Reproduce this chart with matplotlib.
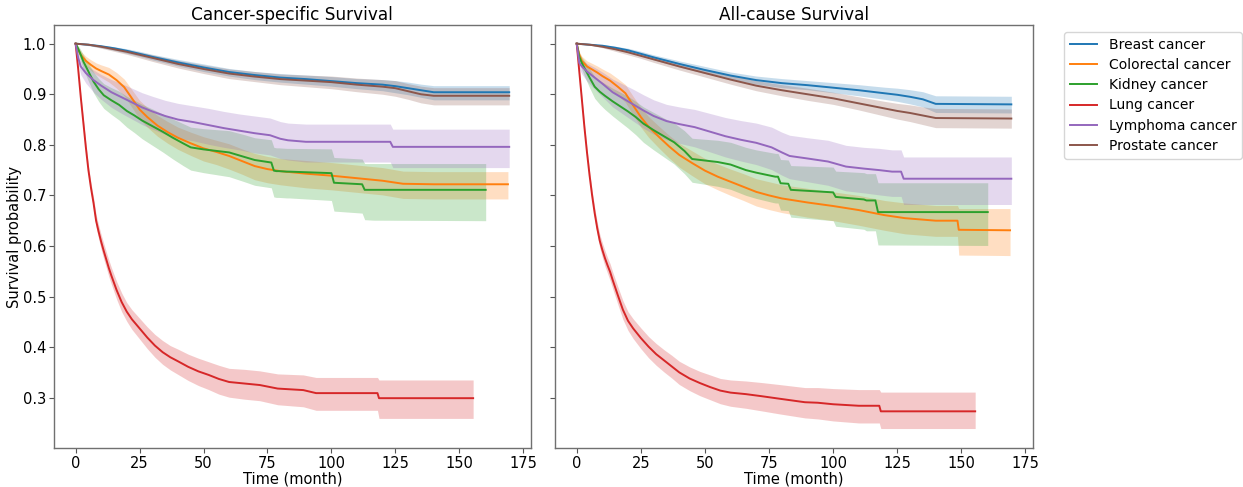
import matplotlib
matplotlib.use("Agg")
import matplotlib.pyplot as plt

# ---- data (months, survival probability) ----
names = ["Breast cancer", "Colorectal cancer", "Kidney cancer",
         "Lung cancer", "Lymphoma cancer", "Prostate cancer"]
colors = ["#1f77b4", "#ff7f0e", "#2ca02c", "#d62728", "#9467bd", "#8c564b"]

t_breast = [0, 5, 10, 15, 20, 25, 30, 40, 50, 60, 70, 80, 90, 100, 110, 120, 125, 130, 135, 140, 169.5]
t_prostate = [0, 5, 10, 15, 20, 25, 30, 40, 50, 60, 70, 80, 90, 100, 110, 120, 125, 130, 135, 140, 169.5]
t_colorectal = [0, 1, 2, 4, 6, 8, 10, 13, 16, 19, 22, 25, 28, 32, 36, 40, 45, 50, 55, 60, 65, 70, 75, 80,
                90, 100, 110, 120, 128, 140, 148.5, 149, 169]
t_kidney = [0, 1, 2, 3, 5, 7, 9, 11, 14, 17, 20, 23, 26, 30, 34, 38, 42, 45, 50, 55, 60, 66, 70, 76.5, 77.5,
            78.5, 79.5, 82.5, 83.5, 100, 101, 112, 113, 116.5, 117.5, 160.3]
t_lymphoma = [0, 1, 2, 4, 7, 10, 14, 18, 22, 26, 30, 35, 40, 46, 52, 58, 64, 70, 76, 80, 83, 90, 98, 105,
              112, 118, 123, 124, 126.5, 127.5, 169.5]
t_lung = [0, 1, 2, 3, 4, 5, 6, 7, 8, 9, 10, 11, 12, 13, 14, 16, 18, 20, 22, 25, 28, 31, 34, 37, 40, 44,
          48, 52, 56, 60, 66, 72, 79, 89, 94, 100, 110, 118, 118.6, 155.4]

# Cancer-specific survival (left panel)
cs_breast = [1.0, 0.998, 0.995, 0.991, 0.986, 0.980, 0.974, 0.963, 0.953, 0.944, 0.938, 0.933, 0.930, 0.926, 0.922, 0.919, 0.916, 0.912, 0.908, 0.904, 0.904]
cs_breast_lo = [1.0, 0.996, 0.992, 0.987, 0.981, 0.975, 0.968, 0.956, 0.945, 0.936, 0.929, 0.924, 0.920, 0.916, 0.911, 0.907, 0.903, 0.899, 0.894, 0.889, 0.889]
cs_breast_hi = [1.0, 0.999, 0.997, 0.994, 0.990, 0.985, 0.979, 0.969, 0.960, 0.951, 0.945, 0.941, 0.938, 0.935, 0.931, 0.929, 0.927, 0.924, 0.920, 0.917, 0.917]

cs_prostate = [1.0, 0.998, 0.994, 0.989, 0.984, 0.978, 0.972, 0.960, 0.950, 0.941, 0.935, 0.930, 0.927, 0.924, 0.919, 0.915, 0.912, 0.906, 0.900, 0.897, 0.897]
cs_prostate_lo = [1.0, 0.997, 0.991, 0.985, 0.979, 0.972, 0.965, 0.952, 0.941, 0.931, 0.925, 0.919, 0.915, 0.911, 0.905, 0.900, 0.896, 0.890, 0.883, 0.879, 0.879]
cs_prostate_hi = [1.0, 0.999, 0.996, 0.992, 0.988, 0.983, 0.978, 0.967, 0.958, 0.950, 0.945, 0.940, 0.938, 0.936, 0.932, 0.929, 0.927, 0.921, 0.916, 0.913, 0.913]

cs_colorectal = [1.0, 0.988, 0.978, 0.966, 0.958, 0.951, 0.946, 0.939, 0.928, 0.914, 0.892, 0.870, 0.855, 0.838, 0.825, 0.814,
                 0.803, 0.793, 0.786, 0.778, 0.768, 0.758, 0.752, 0.748, 0.743, 0.739, 0.734, 0.729, 0.723, 0.722, 0.722, 0.722, 0.722]
cs_colorectal_lo = [1.0, 0.982, 0.970, 0.956, 0.947, 0.939, 0.933, 0.924, 0.912, 0.897, 0.874, 0.851, 0.835, 0.817, 0.803, 0.791,
                    0.779, 0.768, 0.761, 0.752, 0.742, 0.731, 0.725, 0.721, 0.715, 0.711, 0.706, 0.701, 0.694, 0.693, 0.693, 0.693, 0.693]
cs_colorectal_hi = [1.0, 0.993, 0.985, 0.975, 0.968, 0.962, 0.958, 0.953, 0.943, 0.930, 0.909, 0.888, 0.874, 0.858, 0.846, 0.835,
                    0.825, 0.816, 0.809, 0.802, 0.792, 0.783, 0.777, 0.773, 0.769, 0.765, 0.760, 0.755, 0.748, 0.747, 0.747, 0.747, 0.747]

cs_kidney = [1.0, 0.990, 0.978, 0.965, 0.945, 0.925, 0.910, 0.898, 0.888, 0.879, 0.867, 0.858, 0.848, 0.837, 0.826, 0.814, 0.803, 0.795,
             0.791, 0.788, 0.785, 0.776, 0.770, 0.765, 0.749, 0.748, 0.748, 0.747, 0.747, 0.744, 0.725, 0.722, 0.711, 0.711, 0.711, 0.711]
cs_kidney_lo = [1.0, 0.982, 0.966, 0.950, 0.926, 0.903, 0.886, 0.872, 0.860, 0.849, 0.835, 0.824, 0.812, 0.799, 0.786, 0.772, 0.759, 0.750,
                0.745, 0.741, 0.737, 0.727, 0.720, 0.715, 0.697, 0.696, 0.696, 0.695, 0.695, 0.690, 0.669, 0.665, 0.652, 0.651, 0.651, 0.650]
cs_kidney_hi = [1.0, 0.996, 0.988, 0.978, 0.961, 0.944, 0.931, 0.921, 0.913, 0.906, 0.896, 0.888, 0.880, 0.871, 0.861, 0.851, 0.842, 0.835,
                0.832, 0.830, 0.828, 0.820, 0.814, 0.810, 0.795, 0.794, 0.794, 0.793, 0.793, 0.792, 0.775, 0.772, 0.763, 0.763, 0.763, 0.763]

cs_lymphoma = [1.0, 0.972, 0.955, 0.942, 0.928, 0.917, 0.904, 0.894, 0.884, 0.874, 0.866, 0.857, 0.850, 0.845, 0.839, 0.833, 0.828, 0.823,
               0.819, 0.812, 0.809, 0.806, 0.806, 0.806, 0.806, 0.806, 0.806, 0.796, 0.796, 0.796, 0.796]
cs_lymphoma_lo = [1.0, 0.960, 0.939, 0.922, 0.904, 0.890, 0.874, 0.862, 0.851, 0.840, 0.831, 0.821, 0.813, 0.808, 0.801, 0.795, 0.790, 0.784,
                  0.780, 0.773, 0.770, 0.766, 0.766, 0.766, 0.766, 0.766, 0.766, 0.755, 0.755, 0.755, 0.755]
cs_lymphoma_hi = [1.0, 0.982, 0.968, 0.958, 0.948, 0.939, 0.929, 0.921, 0.912, 0.903, 0.896, 0.888, 0.882, 0.877, 0.872, 0.866, 0.861, 0.857,
                  0.853, 0.846, 0.843, 0.841, 0.841, 0.841, 0.841, 0.841, 0.841, 0.831, 0.831, 0.831, 0.831]

cs_lung = [1.0, 0.950, 0.895, 0.845, 0.795, 0.750, 0.715, 0.685, 0.650, 0.628, 0.608, 0.590, 0.573, 0.556, 0.541, 0.513, 0.489, 0.470, 0.455,
           0.437, 0.419, 0.403, 0.390, 0.380, 0.372, 0.361, 0.352, 0.345, 0.337, 0.331, 0.328, 0.325, 0.318, 0.315, 0.309, 0.309, 0.309, 0.309,
           0.299, 0.299]
cs_lung_lo = [1.0, 0.946, 0.889, 0.837, 0.786, 0.740, 0.704, 0.673, 0.637, 0.614, 0.593, 0.574, 0.557, 0.539, 0.524, 0.495, 0.470, 0.451, 0.435,
              0.416, 0.397, 0.380, 0.366, 0.355, 0.346, 0.334, 0.324, 0.316, 0.307, 0.301, 0.297, 0.294, 0.286, 0.282, 0.275, 0.275, 0.275, 0.275,
              0.259, 0.259]
cs_lung_hi = [1.0, 0.954, 0.901, 0.852, 0.803, 0.759, 0.725, 0.696, 0.662, 0.641, 0.622, 0.605, 0.588, 0.572, 0.557, 0.530, 0.507, 0.488, 0.474,
              0.457, 0.440, 0.425, 0.413, 0.403, 0.396, 0.386, 0.378, 0.371, 0.364, 0.358, 0.356, 0.353, 0.347, 0.345, 0.340, 0.340, 0.340, 0.340,
              0.335, 0.335]

# All-cause survival (right panel)
ac_breast = [1.0, 0.998, 0.996, 0.992, 0.987, 0.980, 0.973, 0.960, 0.948, 0.937, 0.928, 0.922, 0.918, 0.913, 0.908, 0.902, 0.899, 0.895, 0.890, 0.881, 0.880]
ac_breast_lo = [1.0, 0.997, 0.994, 0.989, 0.983, 0.976, 0.968, 0.954, 0.941, 0.930, 0.920, 0.913, 0.909, 0.903, 0.897, 0.890, 0.886, 0.881, 0.875, 0.864, 0.863]
ac_breast_hi = [1.0, 0.999, 0.998, 0.995, 0.991, 0.985, 0.978, 0.966, 0.955, 0.944, 0.936, 0.931, 0.927, 0.923, 0.919, 0.914, 0.912, 0.909, 0.905, 0.897, 0.896]

ac_prostate = [1.0, 0.998, 0.994, 0.989, 0.983, 0.976, 0.969, 0.955, 0.942, 0.929, 0.917, 0.908, 0.900, 0.892, 0.882, 0.872, 0.867, 0.863, 0.858, 0.853, 0.852]
ac_prostate_lo = [1.0, 0.997, 0.992, 0.985, 0.978, 0.971, 0.963, 0.948, 0.934, 0.920, 0.907, 0.897, 0.888, 0.880, 0.869, 0.857, 0.851, 0.846, 0.840, 0.834, 0.833]
ac_prostate_hi = [1.0, 0.999, 0.996, 0.992, 0.987, 0.981, 0.975, 0.962, 0.950, 0.938, 0.927, 0.919, 0.912, 0.904, 0.895, 0.886, 0.882, 0.879, 0.875, 0.872, 0.871]

ac_colorectal = [1.0, 0.978, 0.966, 0.955, 0.949, 0.943, 0.936, 0.927, 0.915, 0.902, 0.878, 0.855, 0.836, 0.816, 0.797, 0.780,
                 0.764, 0.749, 0.737, 0.727, 0.717, 0.707, 0.700, 0.694, 0.686, 0.679, 0.671, 0.661, 0.655, 0.650, 0.650, 0.632, 0.631]
ac_colorectal_lo = [1.0, 0.970, 0.956, 0.943, 0.936, 0.929, 0.921, 0.911, 0.898, 0.884, 0.859, 0.835, 0.815, 0.794, 0.774, 0.756,
                    0.739, 0.723, 0.711, 0.700, 0.690, 0.679, 0.672, 0.666, 0.657, 0.650, 0.641, 0.631, 0.624, 0.619, 0.619, 0.582, 0.581]
ac_colorectal_hi = [1.0, 0.984, 0.975, 0.966, 0.961, 0.956, 0.950, 0.942, 0.931, 0.919, 0.896, 0.874, 0.856, 0.837, 0.819, 0.803,
                    0.788, 0.773, 0.762, 0.752, 0.743, 0.733, 0.727, 0.721, 0.714, 0.707, 0.700, 0.690, 0.685, 0.680, 0.680, 0.674, 0.674]

ac_kidney = [1.0, 0.974, 0.962, 0.952, 0.933, 0.915, 0.905, 0.897, 0.886, 0.876, 0.866, 0.855, 0.842, 0.829, 0.817, 0.805, 0.788, 0.772,
             0.769, 0.766, 0.761, 0.750, 0.745, 0.738, 0.737, 0.737, 0.724, 0.723, 0.711, 0.706, 0.697, 0.692, 0.690, 0.690, 0.667, 0.667]
ac_kidney_lo = [1.0, 0.964, 0.949, 0.936, 0.913, 0.892, 0.880, 0.870, 0.857, 0.845, 0.833, 0.820, 0.805, 0.790, 0.776, 0.762, 0.743, 0.726,
                0.722, 0.718, 0.712, 0.700, 0.694, 0.686, 0.685, 0.685, 0.671, 0.670, 0.657, 0.650, 0.639, 0.633, 0.630, 0.630, 0.602, 0.601]
ac_kidney_hi = [1.0, 0.982, 0.973, 0.966, 0.950, 0.935, 0.927, 0.921, 0.912, 0.904, 0.896, 0.886, 0.875, 0.864, 0.853, 0.843, 0.828, 0.813,
                0.811, 0.809, 0.805, 0.795, 0.790, 0.784, 0.783, 0.783, 0.771, 0.770, 0.759, 0.756, 0.748, 0.745, 0.743, 0.743, 0.725, 0.725]

ac_lymphoma = [1.0, 0.962, 0.955, 0.945, 0.933, 0.921, 0.904, 0.892, 0.880, 0.868, 0.857, 0.847, 0.841, 0.835, 0.826, 0.817, 0.810, 0.804,
               0.795, 0.785, 0.778, 0.773, 0.767, 0.757, 0.753, 0.750, 0.747, 0.747, 0.747, 0.733, 0.733]
ac_lymphoma_lo = [1.0, 0.950, 0.940, 0.926, 0.910, 0.895, 0.875, 0.861, 0.847, 0.833, 0.821, 0.810, 0.803, 0.796, 0.786, 0.776, 0.768, 0.761,
                  0.751, 0.740, 0.733, 0.727, 0.720, 0.709, 0.705, 0.701, 0.698, 0.698, 0.698, 0.682, 0.682]
ac_lymphoma_hi = [1.0, 0.972, 0.968, 0.961, 0.953, 0.944, 0.930, 0.920, 0.910, 0.899, 0.889, 0.880, 0.875, 0.870, 0.862, 0.854, 0.848, 0.843,
                  0.835, 0.825, 0.819, 0.814, 0.809, 0.799, 0.795, 0.793, 0.790, 0.790, 0.790, 0.776, 0.776]

ac_lung = [1.0, 0.945, 0.890, 0.835, 0.785, 0.740, 0.700, 0.665, 0.635, 0.610, 0.592, 0.576, 0.562, 0.549, 0.533, 0.503, 0.474, 0.452, 0.437,
           0.418, 0.401, 0.386, 0.374, 0.362, 0.350, 0.338, 0.329, 0.321, 0.314, 0.310, 0.307, 0.303, 0.298, 0.291, 0.290, 0.287, 0.284, 0.284,
           0.273, 0.273]
ac_lung_lo = [1.0, 0.941, 0.884, 0.827, 0.776, 0.730, 0.689, 0.653, 0.622, 0.596, 0.577, 0.560, 0.546, 0.532, 0.516, 0.485, 0.455, 0.433, 0.417,
              0.397, 0.379, 0.364, 0.351, 0.339, 0.326, 0.314, 0.304, 0.296, 0.288, 0.283, 0.279, 0.274, 0.268, 0.260, 0.258, 0.254, 0.250, 0.250,
              0.239, 0.239]
ac_lung_hi = [1.0, 0.949, 0.896, 0.842, 0.793, 0.749, 0.710, 0.676, 0.647, 0.623, 0.606, 0.591, 0.577, 0.565, 0.549, 0.520, 0.492, 0.470, 0.456,
              0.438, 0.421, 0.407, 0.395, 0.384, 0.372, 0.361, 0.352, 0.345, 0.338, 0.335, 0.333, 0.330, 0.326, 0.320, 0.320, 0.318, 0.316, 0.316,
              0.311, 0.311]

times = [t_breast, t_colorectal, t_kidney, t_lung, t_lymphoma, t_prostate]
cs_curves = [(cs_breast, cs_breast_lo, cs_breast_hi), (cs_colorectal, cs_colorectal_lo, cs_colorectal_hi),
             (cs_kidney, cs_kidney_lo, cs_kidney_hi), (cs_lung, cs_lung_lo, cs_lung_hi),
             (cs_lymphoma, cs_lymphoma_lo, cs_lymphoma_hi), (cs_prostate, cs_prostate_lo, cs_prostate_hi)]
ac_curves = [(ac_breast, ac_breast_lo, ac_breast_hi), (ac_colorectal, ac_colorectal_lo, ac_colorectal_hi),
             (ac_kidney, ac_kidney_lo, ac_kidney_hi), (ac_lung, ac_lung_lo, ac_lung_hi),
             (ac_lymphoma, ac_lymphoma_lo, ac_lymphoma_hi), (ac_prostate, ac_prostate_lo, ac_prostate_hi)]


def draw_km(ax, curves, title):
    for name, col, t, (s, lo, hi) in zip(names, colors, times, curves):
        ax.fill_between(t, lo, hi, color=col, alpha=0.25, linewidth=0)
        ax.plot(t, s, color=col, linewidth=1.4, label=name)
    ax.set_title(title, fontsize=12.2, pad=3.5)
    ax.set_xlabel("Time (month)", fontsize=10.5, labelpad=0.5)
    ax.tick_params(labelsize=10.5, pad=2.2, color="#555555")
    for sp in ax.spines.values():
        sp.set_color("#707070")
        sp.set_linewidth(1.0)


fig = plt.figure(figsize=(12.43, 4.87), dpi=100)
ax1 = fig.add_axes([0.0434, 0.0801, 0.3837, 0.8686])
ax2 = fig.add_axes([0.4465, 0.0801, 0.3846, 0.8686], sharey=ax1)

draw_km(ax1, cs_curves, "Cancer-specific Survival")
draw_km(ax2, ac_curves, "All-cause Survival")
ax1.set_ylim(0.2005, 1.037)
ax1.set_ylabel("Survival probability", fontsize=10.5, labelpad=0.5)
plt.setp(ax2.get_yticklabels(), visible=False)

ax2.legend(loc="upper left", bbox_to_anchor=(1.065, 0.983), borderaxespad=0,
           fontsize=10, labelspacing=0.45, handlelength=2.0, handletextpad=0.8)

fig.savefig("out.png", dpi=100)
